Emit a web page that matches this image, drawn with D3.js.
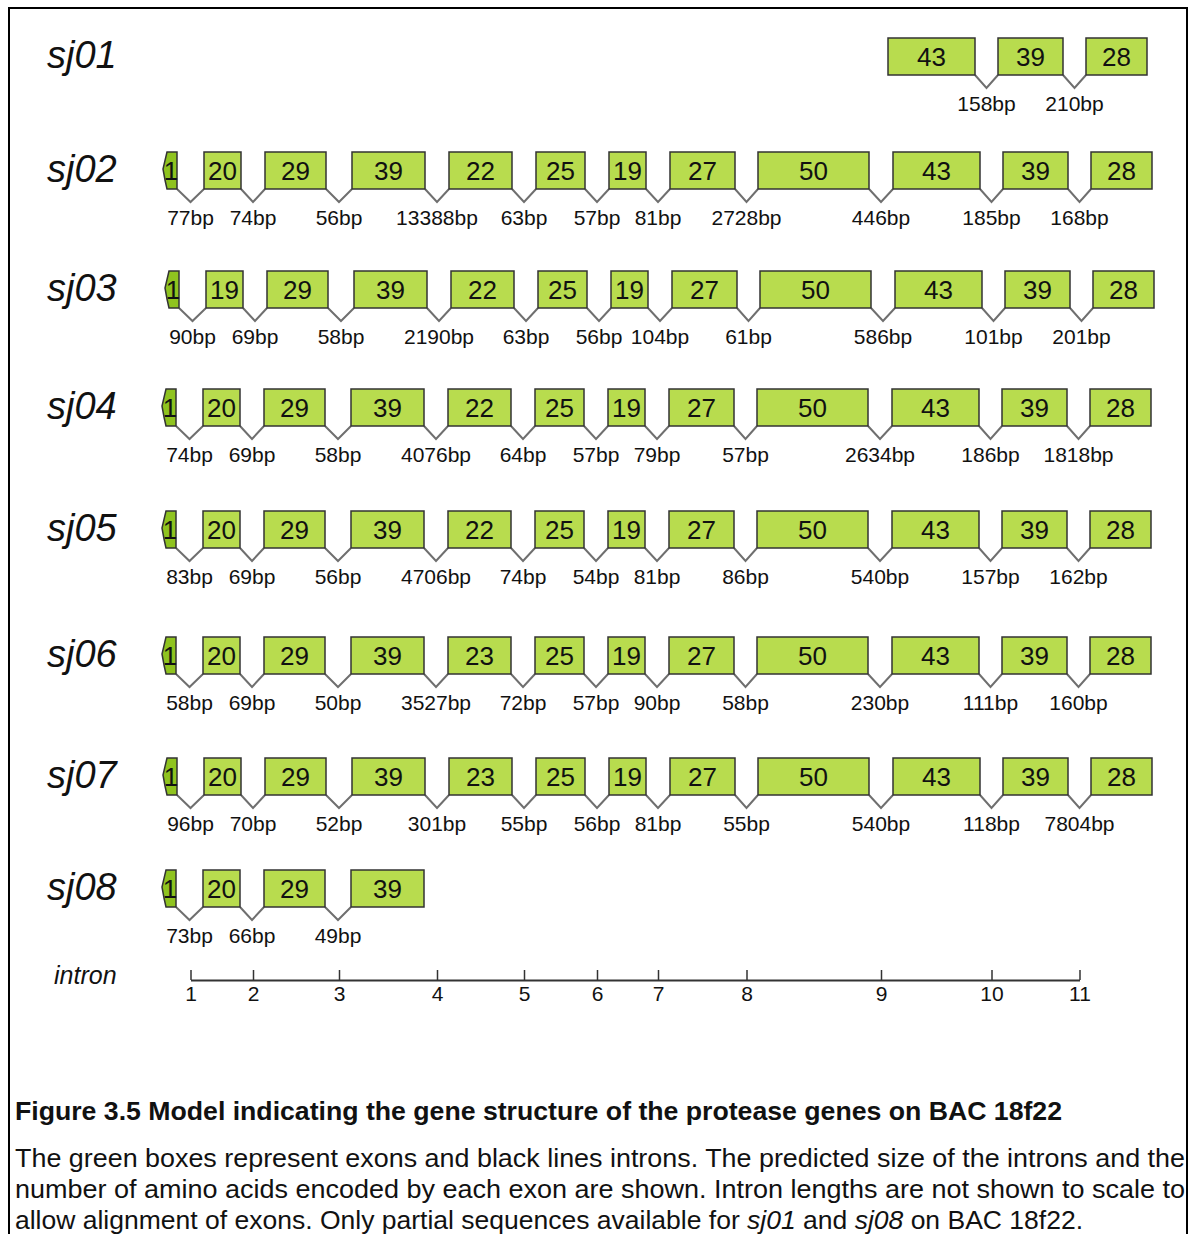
<!DOCTYPE html>
<html>
<head>
<meta charset="utf-8">
<script src="https://cdn.jsdelivr.net/npm/d3@7"></script>
<style>
body { margin: 0; background: #fff; }
svg text { font-family: "Liberation Sans", Arial, sans-serif; fill: #111; }
</style>
</head>
<body>
<div id="chart"></div>
<script>
// gene names and the exon number (1-based) each row starts at
const genes = ["sj01", "sj02", "sj03", "sj04", "sj05", "sj06", "sj07", "sj08"]
const firstExon = [10, 1, 1, 1, 1, 1, 1, 1]

// amino acids per exon, intron sizes (bp)
const sj01Exons = [43, 39, 28]
const sj01Introns = [158, 210]
const sj02Exons = [1, 20, 29, 39, 22, 25, 19, 27, 50, 43, 39, 28]
const sj02Introns = [77, 74, 56, 13388, 63, 57, 81, 2728, 446, 185, 168]
const sj03Exons = [1, 19, 29, 39, 22, 25, 19, 27, 50, 43, 39, 28]
const sj03Introns = [90, 69, 58, 2190, 63, 56, 104, 61, 586, 101, 201]
const sj04Exons = [1, 20, 29, 39, 22, 25, 19, 27, 50, 43, 39, 28]
const sj04Introns = [74, 69, 58, 4076, 64, 57, 79, 57, 2634, 186, 1818]
const sj05Exons = [1, 20, 29, 39, 22, 25, 19, 27, 50, 43, 39, 28]
const sj05Introns = [83, 69, 56, 4706, 74, 54, 81, 86, 540, 157, 162]
const sj06Exons = [1, 20, 29, 39, 23, 25, 19, 27, 50, 43, 39, 28]
const sj06Introns = [58, 69, 50, 3527, 72, 57, 90, 58, 230, 111, 160]
const sj07Exons = [1, 20, 29, 39, 23, 25, 19, 27, 50, 43, 39, 28]
const sj07Introns = [96, 70, 52, 301, 55, 56, 81, 55, 540, 118, 7804]
const sj08Exons = [1, 20, 29, 39]
const sj08Introns = [73, 66, 49]

const intronTicks = [1, 2, 3, 4, 5, 6, 7, 8, 9, 10, 11]

const exonLists = [sj01Exons, sj02Exons, sj03Exons, sj04Exons, sj05Exons, sj06Exons, sj07Exons, sj08Exons]
const intronLists = [sj01Introns, sj02Introns, sj03Introns, sj04Introns, sj05Introns, sj06Introns, sj07Introns, sj08Introns]

// layout: exon columns (track units), not to scale
const colEdges = [[0, 12], [39, 76], [100, 161], [187, 260], [284, 347], [371, 420],
                  [444, 481], [505, 570], [593, 704], [728, 815], [838, 903], [926, 987]]
const exonH = 37

let svg = d3.select("#chart")
            .append("svg")
            .attr("width", 1193)
            .attr("height", 1234)

let x = d3.scaleLinear().domain([0, 987]).range([165, 1152])
let rowTop = d3.scaleOrdinal().domain(genes).range([38, 152, 271, 389, 511, 637, 758, 870])
let rowShift = d3.scaleOrdinal().domain(genes).range([-5, 0, 2, -1, -1, -1, 0, -1])

svg.append("rect")
   .attr("x", 9).attr("y", 8)
   .attr("width", 1178).attr("height", 1250)
   .attr("fill", "none")
   .attr("stroke", "#000")
   .attr("stroke-width", 2)

genes.forEach(function(gene, gi) {
    let top = rowTop(gene), bottom = top + exonH
    let dx = rowShift(gene)
    let g = svg.append("g").attr("transform", "translate(" + dx + ",0)")
    let start = firstExon[gi] - 1

    svg.append("text")
       .attr("x", 47)
       .attr("y", top + 30)
       .attr("font-size", 38)
       .attr("font-style", "italic")
       .text(gene)

    let exons = exonLists[gi].map(function(aa, i) { return {col: start + i, aa: aa} })
    let introns = intronLists[gi].map(function(bp, i) { return {col: start + i, bp: bp} })

    // intron "V" connectors
    g.selectAll(".intron")
     .data(introns)
     .enter().append("path")
     .attr("fill", "none")
     .attr("stroke", "#6f6f6f")
     .attr("stroke-width", 2)
     .attr("d", function(d) {
         let x1 = x(colEdges[d.col][1]), x2 = x(colEdges[d.col + 1][0])
         return "M" + x1 + "," + bottom + "L" + (x1 + x2) / 2 + "," + (bottom + 13) + "L" + x2 + "," + bottom
     })

    g.selectAll(".bp")
     .data(introns)
     .enter().append("text")
     .attr("x", function(d) { return (x(colEdges[d.col][1]) + x(colEdges[d.col + 1][0])) / 2 })
     .attr("y", bottom + 36)
     .attr("font-size", 21)
     .attr("text-anchor", "middle")
     .attr("fill", "#222")
     .text(function(d) { return d.bp + "bp" })

    // first (partial) exon drawn as a small pointed shape
    g.selectAll(".first")
     .data(exons.filter(function(d) { return d.col === 0 }))
     .enter().append("path")
     .attr("fill", "#8fc31f")
     .attr("stroke", "#333")
     .attr("stroke-width", 1.5)
     .attr("d", function(d) {
         let a = x(colEdges[0][0]), b = x(colEdges[0][1])
         return "M" + (a + 2) + "," + top + "L" + b + "," + top + "L" + b + "," + bottom +
                "L" + (a + 2) + "," + bottom + "L" + a + "," + (top + 28) + "L" + (a - 2) + "," + (top + 17) + "Z"
     })

    g.selectAll(".exon")
     .data(exons.filter(function(d) { return d.col > 0 }))
     .enter().append("rect")
     .attr("x", function(d) { return x(colEdges[d.col][0]) })
     .attr("y", top)
     .attr("width", function(d) { return x(colEdges[d.col][1]) - x(colEdges[d.col][0]) })
     .attr("height", exonH)
     .attr("fill", "#b8dc4e")
     .attr("stroke", "#333")
     .attr("stroke-width", 1.5)

    g.selectAll(".aa")
     .data(exons)
     .enter().append("text")
     .attr("x", function(d) { return (x(colEdges[d.col][0]) + x(colEdges[d.col][1])) / 2 })
     .attr("y", top + 28)
     .attr("font-size", 26)
     .attr("text-anchor", "middle")
     .text(function(d) { return d.aa })
})

// intron index axis, ticks sit at the intron midpoints
let intronX = d3.scaleLinear()
                .domain(intronTicks)
                .range(intronTicks.map(function(t) { return (x(colEdges[t - 1][1]) + x(colEdges[t][0])) / 2 }))

let axisG = svg.append("g")
               .attr("transform", "translate(0,980)")
               .call(d3.axisBottom(intronX)
                       .tickValues(intronTicks)
                       .tickSizeInner(-10)
                       .tickSizeOuter(0)
                       .tickPadding(6)
                       .tickFormat(d3.format("d")))
axisG.select(".domain").attr("stroke", "#333").attr("stroke-width", 2)
axisG.selectAll(".tick line").attr("stroke", "#333").attr("stroke-width", 1.5)
axisG.selectAll(".tick text")
     .attr("font-size", 21)
     .attr("font-family", "Liberation Sans, Arial, sans-serif")
     .attr("fill", "#222")

svg.append("text")
   .attr("x", 54).attr("y", 984)
   .attr("font-size", 25)
   .attr("font-style", "italic")
   .text("intron")

// caption
svg.append("text")
   .attr("x", 15).attr("y", 1120)
   .attr("font-size", 25)
   .attr("font-weight", "bold")
   .attr("fill", "#000")
   .attr("textLength", 1047)
   .attr("lengthAdjust", "spacingAndGlyphs")
   .text("Figure 3.5 Model indicating the gene structure of the protease genes on BAC 18f22")

const captionLines = [
    "The green boxes represent exons and black lines introns. The predicted size of the introns and the",
    "number of amino acids encoded by each exon are shown. Intron lengths are not shown to scale to"
]
captionLines.forEach(function(line, i) {
    svg.append("text")
       .attr("x", 15).attr("y", 1167 + i * 31)
       .attr("font-size", 26)
       .attr("fill", "#000")
       .attr("textLength", 1170)
       .attr("lengthAdjust", "spacingAndGlyphs")
       .text(line)
})
let last = svg.append("text")
              .attr("x", 15).attr("y", 1229)
              .attr("font-size", 26)
              .attr("fill", "#000")
              .attr("textLength", 1068)
              .attr("lengthAdjust", "spacingAndGlyphs")
last.append("tspan").text("allow alignment of exons. Only partial sequences available for ")
last.append("tspan").attr("font-style", "italic").text("sj01")
last.append("tspan").text(" and ")
last.append("tspan").attr("font-style", "italic").text("sj08")
last.append("tspan").text(" on BAC 18f22.")
</script>
</body>
</html>
